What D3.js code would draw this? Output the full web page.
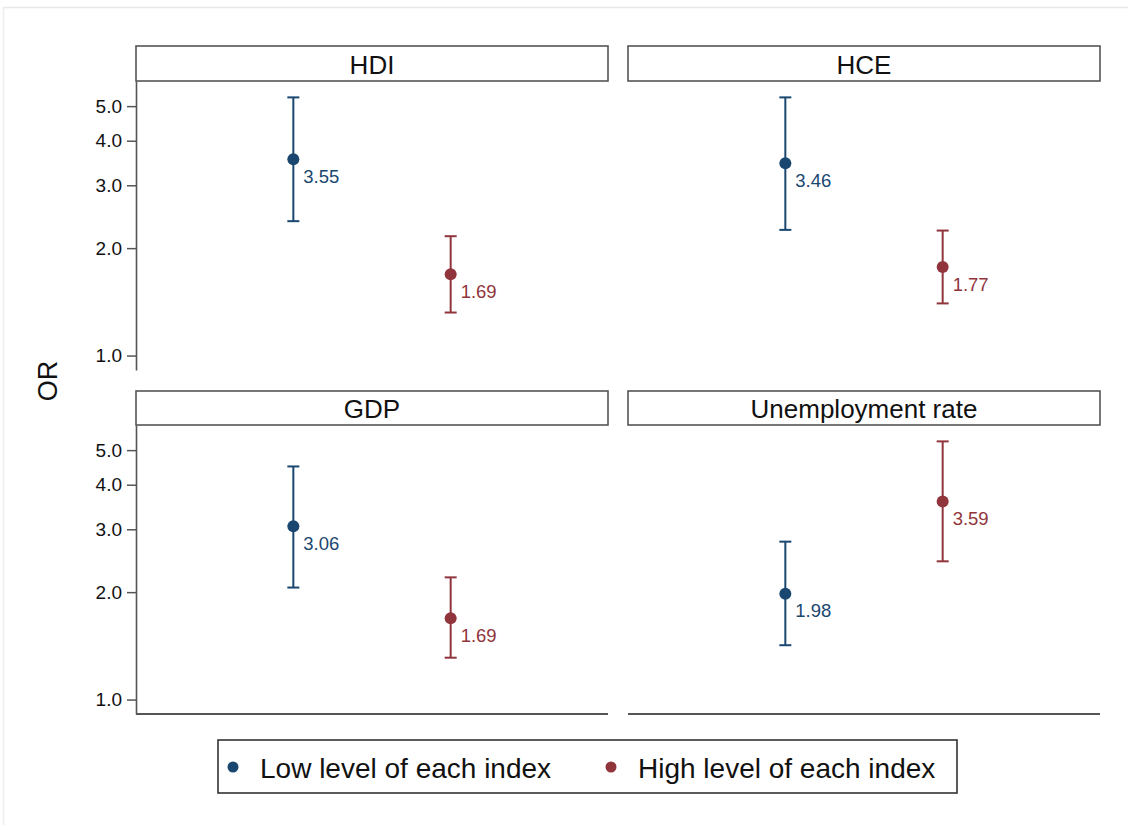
<!DOCTYPE html>
<html>
<head>
<meta charset="utf-8">
<script src="https://cdn.jsdelivr.net/npm/d3@7/dist/d3.min.js"></script>
<style>
  html, body { margin: 0; padding: 0; background: #fff; }
  svg { display: block; font-family: "Liberation Sans", Arial, sans-serif; }
</style>
</head>
<body>
<svg id="chart" width="1128" height="825"></svg>
<script>
// ---- data ----
const panels = ["HDI", "HCE", "GDP", "Unemployment rate"];
const groups = ["Low level of each index", "High level of each index"];
const orValues = [[3.55, 1.69], [3.46, 1.77], [3.06, 1.69], [1.98, 3.59]];
const lowerCI  = [[2.38, 1.32], [2.25, 1.40], [2.06, 1.31], [1.42, 2.44]];
const upperCI  = [[5.29, 2.16], [5.29, 2.24], [4.50, 2.20], [2.77, 5.29]];
const yTicks = [1, 2, 3, 4, 5];
const yLabel = "OR";

// ---- styles ----
const colors = ["#1a476f", "#90353b"];
const svg = d3.select("#chart");

// faint outer frame
svg.append("line").attr("x1", 3).attr("x2", 1128).attr("y1", 7.5).attr("y2", 7.5)
  .attr("stroke", "#e8e8e8").attr("stroke-width", 1.5);
svg.append("line").attr("x1", 3.5).attr("x2", 3.5).attr("y1", 7).attr("y2", 825)
  .attr("stroke", "#eeeeee").attr("stroke-width", 1.5);

const cols = [{x0: 136, x1: 608}, {x0: 628, x1: 1100}];
const rows = [{s0: 46, y0: 81, y1: 370}, {s0: 391, y0: 425, y1: 714}];

const x = d3.scalePoint().domain(groups).padding(1);

panels.forEach((name, i) => {
  const c = cols[i % 2], r = rows[Math.floor(i / 2)];
  const w = c.x1 - c.x0;
  x.range([c.x0, c.x1]);
  const y = d3.scaleLog().domain([0.911, 5.88]).range([r.y1, r.y0]);

  // strip
  svg.append("rect").attr("x", c.x0).attr("y", r.s0).attr("width", w).attr("height", r.y0 - r.s0)
    .attr("fill", "#fff").attr("stroke", "#555").attr("stroke-width", 1.6);
  svg.append("text").attr("x", (c.x0 + c.x1) / 2).attr("y", (r.s0 + r.y0) / 2 + 1)
    .attr("text-anchor", "middle").attr("dominant-baseline", "central")
    .attr("font-size", 26).attr("fill", "#111").text(name);

  // y axis for left column
  if (i % 2 === 0) {
    const ax = svg.append("g").attr("transform", `translate(${c.x0},0)`)
      .call(d3.axisLeft(y).tickValues(yTicks).tickFormat(d3.format(".1f"))
        .tickSize(9).tickSizeOuter(0).tickPadding(5));
    ax.attr("font-size", 19).attr("font-family", "Liberation Sans, Arial, sans-serif");
    ax.select(".domain").attr("stroke", "#555").attr("stroke-width", 1.6);
    ax.selectAll(".tick line").attr("stroke", "#555").attr("stroke-width", 1.5);
    ax.selectAll(".tick text").attr("fill", "#111");
  }
  // x axis line for bottom row
  if (i >= 2) {
    svg.append("line").attr("x1", c.x0).attr("x2", c.x1).attr("y1", r.y1).attr("y2", r.y1)
      .attr("stroke", "#555").attr("stroke-width", 2);
  }

  groups.forEach((g, j) => {
    const cx = x(g), col = colors[j];
    const gg = svg.append("g");
    gg.append("line").attr("x1", cx).attr("x2", cx)
      .attr("y1", y(lowerCI[i][j])).attr("y2", y(upperCI[i][j]))
      .attr("stroke", col).attr("stroke-width", 2);
    [lowerCI[i][j], upperCI[i][j]].forEach(v => {
      gg.append("line").attr("x1", cx - 6).attr("x2", cx + 6)
        .attr("y1", y(v)).attr("y2", y(v))
        .attr("stroke", col).attr("stroke-width", 2);
    });
    gg.append("circle").attr("cx", cx).attr("cy", y(orValues[i][j])).attr("r", 6)
      .attr("fill", col);
    gg.append("text").attr("x", cx + 10).attr("y", y(orValues[i][j]) + 17)
      .attr("dominant-baseline", "central").attr("font-size", 18.5).attr("fill", col)
      .text(orValues[i][j].toFixed(2));
  });
});

// y label
svg.append("text").attr("transform", "translate(48,381) rotate(-90)")
  .attr("text-anchor", "middle").attr("dominant-baseline", "central")
  .attr("font-size", 27).attr("fill", "#111").text(yLabel);

// legend
svg.append("rect").attr("x", 218).attr("y", 740).attr("width", 739).attr("height", 53)
  .attr("fill", "#fff").attr("stroke", "#333").attr("stroke-width", 1.6);
const legX = [233, 611];
groups.forEach((g, j) => {
  svg.append("circle").attr("cx", legX[j]).attr("cy", 767).attr("r", 5.5).attr("fill", colors[j]);
  svg.append("text").attr("x", legX[j] + 27).attr("y", 768)
    .attr("dominant-baseline", "central").attr("font-size", 28).attr("fill", "#111")
    .text(g);
});
</script>
</body>
</html>
